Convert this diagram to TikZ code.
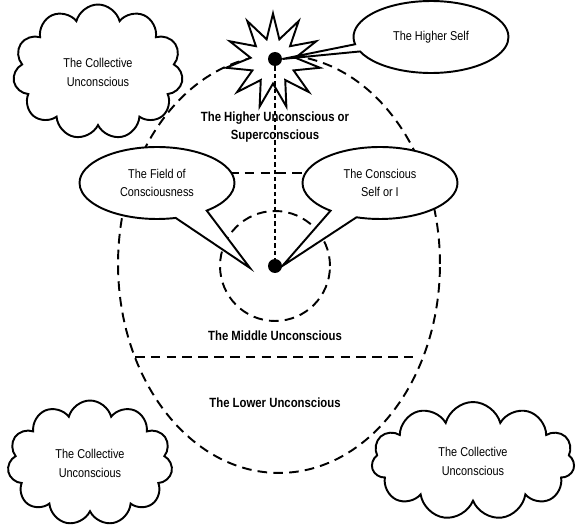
\documentclass[tikz,border=0pt]{standalone}
\usepackage{fontspec}
\setmainfont{Liberation Sans}[FakeStretch=0.85]
\usetikzlibrary{shapes.geometric,shapes.symbols,shapes.callouts}

\tikzset{
  zone/.style={dash pattern=on 5.5pt off 3.5pt,line width=1.1pt},
  axisline/.style={dash pattern=on 2.5pt off 1.7pt,line width=.6pt},
  spot/.style={circle,fill=black,inner sep=0pt,minimum size=.28cm},
  puff/.style={cloud,cloud puffs=11,cloud ignores aspect,draw,line width=1.1pt,
    fill=white,align=center,font=\fontsize{7.3}{10.8}\selectfont},
  talk/.style={ellipse callout,draw,line width=1.1pt,fill=white,align=center,
    inner sep=0pt,minimum width=3.1cm,minimum height=1.44cm,
    font=\fontsize{7.3}{10.2}\selectfont},
  level/.style={align=center,font=\bfseries\fontsize{7.6}{10.2}\selectfont}
}

\begin{document}
\begin{tikzpicture}[x=0.02cm,y=-0.02cm]
  \useasboundingbox (0,0) rectangle (579,530);

  % the egg and its levels
  \node[ellipse,draw,zone,inner sep=0pt,minimum width=6.44cm,minimum height=8.36cm] (egg) at (279,264) {};
  \draw[zone] (134,173) -- (424,173);
  \draw[zone] (135,357) -- (418,357);
  \node[circle,draw,zone,inner sep=0pt,minimum size=2.2cm] (field) at (275,266) {};

  % higher self and conscious self
  \node[star,star points=11,star point ratio=2.1,draw,line width=1.1pt,fill=white,
    inner sep=0pt,minimum size=1.9cm] (burst) at (273,61) {};
  \coordinate (hs) at (275,59);
  \coordinate (ci) at (275,266);
  \draw[axisline] (hs) -- (ci);
  \node[spot] (hsdot) at (hs) {};
  \node[spot] (cidot) at (ci) {};
  \coordinate (fieldtip) at (250,268);

  \node[level] (higher) at (275,127) {The Higher Unconscious or\\Superconscious};
  \node[level] (middle) at (275,336) {The Middle Unconscious};
  \node[level] (lower) at (275,403) {The Lower Unconscious};

  % callouts
  \node[talk,callout absolute pointer={(hsdot.east)},callout pointer arc=12] (hself) at (431,37) {The Higher Self};
  \node[talk,callout absolute pointer={(fieldtip)},callout pointer arc=26] (fieldtalk) at (157,183) {The Field of\\Consciousness};
  \node[talk,callout absolute pointer={(cidot.east)},callout pointer arc=22] (cself) at (380,183) {The Conscious\\Self or I};

  % collective unconscious
  \node[puff,minimum width=3.4cm,minimum height=2.7cm] (cu1) at (98,72) {The Collective\\Unconscious};
  \node[puff,minimum width=3.3cm,minimum height=2.5cm] (cu2) at (90,463) {The Collective\\Unconscious};
  \node[puff,minimum width=4.06cm,minimum height=2.36cm] (cu3) at (473,461) {The Collective\\Unconscious};
\end{tikzpicture}
\end{document}
